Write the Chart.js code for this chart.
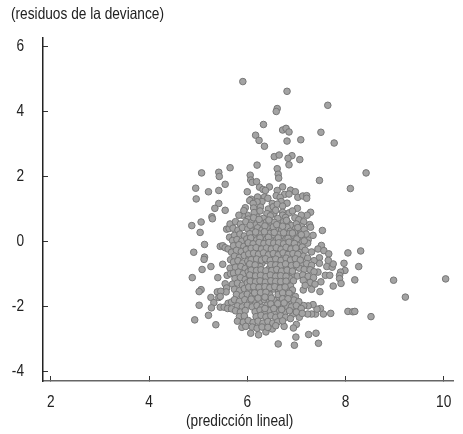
<!DOCTYPE html>
<html>
<head>
<meta charset="utf-8">
<script src="https://cdn.jsdelivr.net/npm/chart.js@4/dist/chart.umd.min.js"></script>
<style>
  html, body { margin: 0; padding: 0; background: #fff; }
  #wrap { position: relative; width: 463px; height: 434px; }
</style>
</head>
<body>
<div id="wrap"><canvas id="grafico"></canvas></div>
<script>
const xTicks = [2, 4, 6, 8, 10]
const yTicks = [-4, -2, 0, 2, 4, 6]
const xTitle = '(predicción lineal)'
const yTitle = '(residuos de la deviance)'

// [prediccion lineal, residuo]
const puntosArriba = [
  [5.91,4.93],[6.81,4.63],[6.61,4.10],[6.59,4.01],[7.64,4.20],[6.33,3.61],[6.72,3.44],[6.79,3.49],[6.85,3.38],
  [6.17,3.28],[6.24,3.12],[6.35,2.94],[6.81,3.10],[7.09,3.14],[7.50,3.37],[7.77,3.04],[6.55,2.62],[6.65,2.67],
  [6.91,2.65],[6.83,2.57],[7.07,2.53],[6.85,2.37],[6.20,2.36],[6.61,2.25],[6.63,2.08],[6.64,1.96],[6.06,2.05],
  [6.07,1.90],[6.10,1.83],[6.19,1.85],[8.42,2.12],[7.47,1.89],[8.10,1.64],[6.00,1.54],[6.72,1.69],[6.45,1.69],
  [6.25,1.68],[6.32,1.61],[6.37,1.58],[6.61,1.58],[6.88,1.59],[6.98,1.54],[6.59,1.42],[6.76,1.46],[6.85,1.47],
  [7.03,1.37],[7.13,1.41],[7.21,1.42],[7.21,1.34],[6.08,1.31],[6.05,1.27],[6.21,1.38],[6.35,1.38],[6.42,1.34],
  [6.67,1.37],[6.69,1.24],[6.81,1.19],[6.30,1.24],[6.20,1.23],[6.12,1.18],[5.96,1.05],[6.13,1.04],[6.27,1.07],
  [6.43,1.01],[6.51,1.18],[6.53,1.08],[6.61,1.16],[6.72,1.10],[7.02,1.03],[7.29,0.91],[7.22,0.82],[6.85,0.89],
  [6.72,0.91],[6.72,0.82],[6.54,0.87],[6.40,0.87],[6.20,0.77],[6.00,0.82],[5.90,0.82],[5.83,0.82],[7.10,0.82]
]
const puntosIzquierda = [
  [5.07,2.12],[5.42,2.14],[5.43,2.01],[5.65,2.28],[4.95,1.65],[5.21,1.54],[5.42,1.58],[5.55,1.77],[4.96,1.32],
  [5.42,1.18],[5.34,1.03],[5.55,0.97],[5.28,0.77],[4.87,0.50],[5.06,0.61],[5.04,0.29],[5.29,0.71],[5.13,-0.08],
  [4.91,-0.32],[5.13,-0.47],[5.12,-0.54],[5.26,-0.76],[5.08,-0.85],[5.50,-0.69],[4.88,-1.10],[5.40,-1.10],
  [5.06,-1.47],[5.02,-1.53],[5.39,-1.54],[5.02,-1.95],[5.26,-1.71],[5.32,-1.87],[5.42,-1.71],[5.27,-2.03],
  [5.45,-2.01],[4.93,-2.40],[5.21,-2.26],[5.36,-2.55],[5.45,-0.14],[5.50,-0.12],[5.55,-0.18],[5.61,-0.22],
  [5.58,0.39],[5.63,0.41],[5.65,0.55],[5.64,0.14],[5.66,-0.55],[5.65,-0.81],[5.59,-1.03],[5.66,-0.98],
  [5.55,-1.29],[5.58,-1.42],[5.57,-1.54],[5.46,-1.52],[5.45,-1.68],[5.53,-2.01],[5.61,-1.89],[5.68,-1.85],
  [5.60,-2.05],[5.68,-2.06]
]
const puntosDerecha = [
  [7.53,0.35],[7.27,0.53],[7.29,0.45],[7.24,0.06],[7.23,-0.04],[7.51,-0.11],[7.44,-0.22],[7.31,-0.31],[7.56,-0.27],
  [7.66,-0.37],[8.05,-0.34],[8.31,-0.28],[7.97,-0.66],[8.27,-0.76],[7.99,-0.88],[7.90,-0.93],[7.88,-1.03],
  [7.88,-1.13],[7.91,-1.28],[8.19,-1.17],[7.75,-1.36],[8.98,-1.18],[10.04,-1.14],[9.22,-1.70],[8.52,-2.30],
  [8.05,-2.14],[8.15,-2.15],[8.19,-2.14],[7.70,-2.20],[7.55,-2.22],[7.39,-2.22],[7.31,-2.22],[7.23,-2.22],
  [7.49,-2.05],[7.42,-2.07],[7.34,-1.93],[7.24,-1.97],[7.15,-1.96],[7.48,-1.53],[7.50,-1.23],[7.31,-1.46],
  [7.14,-1.48],[7.59,-1.03],[7.68,-1.03],[7.62,-0.76],[7.73,-0.78],[7.75,-0.68],[7.65,-0.57],[7.47,-0.49],
  [7.47,-0.66],[7.44,-0.93],[7.06,-2.32],[6.93,-2.22],[7.00,-2.54],[6.94,-2.65],[6.75,-2.60],[6.51,-2.68],
  [6.38,-2.77],[6.23,-2.86],[6.07,-2.81],[5.89,-2.63],[6.99,-2.93],[7.25,-2.85],[7.40,-2.81],[7.45,-3.12],
  [6.96,-3.18],[6.63,-3.14]
]
const nubeAlta = [
  [5.93,0.96],[6.02,0.70],[6.14,0.90],[6.26,0.95],[6.33,0.72],[6.47,0.80],[6.58,0.97],[6.62,0.72],[6.78,0.75],
  [6.92,0.95],[6.97,0.74],[7.05,0.68],[7.15,0.62],[5.76,0.62],[5.86,0.55],[5.97,0.62],[6.09,0.60],[6.17,0.52],
  [6.27,0.58],[6.39,0.61],[6.47,0.53],[6.55,0.60],[6.66,0.55],[6.74,0.62],[6.84,0.57],[6.90,0.50],[7.00,0.55],
  [7.11,0.46],[5.71,0.42],[5.81,0.36],[5.90,0.44],[6.01,0.40],[6.11,0.33],[6.21,0.43],[6.30,0.36],[6.41,0.44],
  [6.50,0.33],[6.61,0.41],[6.70,0.36],[6.81,0.45],[6.88,0.33],[6.98,0.40],[7.06,0.31],[7.16,0.38],[5.74,0.20],
  [5.85,0.24],[5.94,0.18],[6.05,0.25],[6.16,0.17],[6.25,0.24],[6.36,0.19],[6.45,0.26],[6.56,0.17],[6.65,0.23],
  [6.75,0.18],[6.86,0.25],[6.94,0.16],[7.03,0.21],[7.13,0.14],[7.20,0.24],[7.34,0.20],[5.70,0.04],[5.79,0.07],
  [5.89,0.02],[5.99,0.09],[6.08,0.02],[6.19,0.06],[6.29,0.00],[6.39,0.08],[6.49,0.03],[6.59,0.06],[6.69,0.01],
  [6.79,0.09],[6.90,0.02],[6.99,0.05],[7.08,-0.02],[7.16,0.03]
]
const nubeMedia = [
  [5.72,-0.12],[5.83,-0.09],[5.93,-0.14],[6.03,-0.08],[6.13,-0.15],[6.23,-0.09],[6.33,-0.16],[6.43,-0.08],
  [6.53,-0.13],[6.63,-0.09],[6.73,-0.15],[6.83,-0.08],[6.93,-0.14],[7.02,-0.10],[7.12,-0.16],[5.68,-0.32],
  [5.78,-0.26],[5.88,-0.30],[5.98,-0.24],[6.08,-0.32],[6.18,-0.26],[6.28,-0.30],[6.38,-0.25],[6.48,-0.33],
  [6.58,-0.27],[6.68,-0.31],[6.78,-0.24],[6.88,-0.32],[6.98,-0.27],[7.08,-0.33],[7.18,-0.26],[5.74,-0.44],
  [5.84,-0.48],[5.94,-0.42],[6.04,-0.49],[6.14,-0.43],[6.24,-0.47],[6.34,-0.41],[6.44,-0.50],[6.54,-0.44],
  [6.64,-0.48],[6.74,-0.41],[6.84,-0.49],[6.94,-0.43],[7.04,-0.47],[7.14,-0.44],[7.23,-0.50],[7.36,-0.58],
  [5.72,-0.62],[5.81,-0.58],[5.91,-0.65],[6.01,-0.59],[6.11,-0.64],[6.21,-0.60],[6.30,-0.66],[6.41,-0.58],
  [6.51,-0.65],[6.61,-0.60],[6.71,-0.66],[6.81,-0.59],[6.91,-0.65],[7.01,-0.60],[7.11,-0.66],[7.21,-0.67],
  [7.31,-0.72],[5.76,-0.78],[5.87,-0.76],[5.96,-0.82],[6.06,-0.75],[6.16,-0.81],[6.26,-0.76],[6.45,-0.82],
  [6.55,-0.76],[6.66,-0.82],[6.76,-0.77],[6.86,-0.83],[6.96,-0.76],[7.06,-0.81],[7.16,-0.85],[7.28,-0.86],
  [7.36,-0.92]
]
const nubeBaja = [
  [5.72,-0.96],[5.82,-0.93],[5.92,-0.98],[6.02,-0.92],[6.12,-0.99],[6.22,-0.93],[6.32,-0.98],[6.42,-0.94],
  [6.52,-1.00],[6.62,-0.93],[6.72,-0.99],[6.82,-0.94],[6.92,-1.00],[7.02,-1.05],[7.13,-1.02],[7.24,-1.06],
  [7.35,-1.10],[5.75,-1.13],[5.86,-1.10],[5.96,-1.16],[6.06,-1.09],[6.16,-1.15],[6.26,-1.10],[6.36,-1.16],
  [6.46,-1.10],[6.56,-1.16],[6.66,-1.11],[6.76,-1.17],[6.86,-1.12],[6.94,-1.20],[7.14,-1.18],[7.28,-1.25],
  [7.38,-1.30],[5.70,-1.30],[5.80,-1.27],[5.90,-1.33],[6.00,-1.26],[6.10,-1.32],[6.20,-1.27],[6.30,-1.33],
  [6.40,-1.27],[6.50,-1.33],[6.60,-1.28],[6.70,-1.34],[6.80,-1.29],[6.88,-1.36],[7.18,-1.34],[5.74,-1.46],
  [5.84,-1.50],[5.94,-1.44],[6.04,-1.50],[6.14,-1.45],[6.24,-1.51],[6.34,-1.45],[6.44,-1.50],[6.54,-1.45],
  [6.64,-1.51],[6.74,-1.46],[6.84,-1.52],[6.92,-1.48]
]
const nubeFondo = [
  [5.78,-1.62],[5.90,-1.66],[6.00,-1.61],[6.10,-1.67],[6.20,-1.62],[6.30,-1.68],[6.40,-1.62],[6.68,-1.64],
  [6.78,-1.69],[6.88,-1.63],[6.98,-1.68],[5.74,-1.78],[5.84,-1.83],[5.95,-1.78],[6.05,-1.84],[6.15,-1.79],
  [6.25,-1.84],[6.35,-1.78],[6.45,-1.84],[6.55,-1.80],[6.65,-1.85],[6.75,-1.79],[6.85,-1.84],[6.95,-1.79],
  [7.05,-1.84],[5.80,-1.97],[5.90,-2.00],[6.00,-1.95],[6.10,-2.00],[6.20,-1.96],[6.30,-2.01],[6.40,-1.95],
  [6.50,-2.00],[6.60,-1.96],[6.70,-2.01],[6.80,-1.95],[6.90,-2.00],[7.00,-1.96],[7.10,-2.05],[5.76,-2.12],
  [5.86,-2.16],[5.96,-2.11],[6.16,-2.15],[6.26,-2.10],[6.36,-2.16],[6.46,-2.11],[6.56,-2.16],[6.66,-2.11],
  [6.76,-2.17],[6.86,-2.12],[7.00,-2.16],[7.12,-2.20],[5.84,-2.30],[5.94,-2.28],[6.18,-2.30],[6.28,-2.26],
  [6.38,-2.31],[6.48,-2.27],[6.58,-2.32],[6.68,-2.27],[6.78,-2.32],[6.88,-2.36],[5.80,-2.44],[5.92,-2.47],
  [6.02,-2.42],[6.12,-2.48],[6.22,-2.44],[6.32,-2.50],[6.42,-2.45],[6.52,-2.50],[6.62,-2.46],[6.72,-2.43],
  [5.97,-2.60],[6.10,-2.62],[6.20,-2.66],[6.30,-2.62],[6.42,-2.63],[6.58,-2.58],[6.46,-1.63],[6.49,-1.73],[6.63,-1.62]
]
const nubeCentro = [
  [6.06,0.51],[6.13,0.74],[6.24,0.69],[6.36,0.49],[6.44,0.67],[6.53,0.46],[6.60,0.53],[6.72,0.48],[6.80,0.66],
  [6.96,0.29],[7.03,0.44],[6.07,0.12],[6.17,0.30],[6.26,0.12],[6.35,0.31],[6.43,0.14],[6.55,0.29],[6.63,0.12],
  [6.74,0.28],[6.83,0.11],[6.92,0.27],[7.01,0.09],[7.10,0.22],[6.02,-0.03],[6.12,-0.06],[6.24,-0.02],[6.34,-0.05],
  [6.44,-0.02],[6.54,-0.04],[6.64,-0.03],[6.74,-0.06],[6.85,-0.01],[6.96,-0.05],[6.08,-0.20],[6.18,-0.18],
  [6.29,-0.22],[6.39,-0.19],[6.49,-0.22],[6.59,-0.18],[6.69,-0.23],[6.79,-0.17],[6.89,-0.22],[6.99,-0.19],
  [6.03,-0.37],[6.13,-0.35],[6.23,-0.38],[6.33,-0.34],[6.43,-0.40],[6.53,-0.36],[6.63,-0.40],[6.73,-0.34],
  [6.83,-0.39],[6.93,-0.36],[7.03,-0.38],[6.08,-0.55],[6.19,-0.53],[6.29,-0.56],[6.37,-0.52],[6.47,-0.57],
  [6.58,-0.53],[6.69,-0.57],[6.79,-0.50],[6.88,-0.56],[6.98,-0.52],[7.08,-0.56],[6.05,-0.68],[6.16,-0.71],
  [6.48,-0.70],[6.58,-0.71],[6.68,-0.73],[6.78,-0.68],[6.90,-0.73],[7.00,-0.70],[6.08,-0.87],[6.19,-0.88],
  [6.28,-0.86],[6.38,-0.89],[6.50,-0.88],[6.60,-0.85],[6.70,-0.90],[6.81,-0.87],[6.92,-0.90],[6.05,-1.02],
  [6.17,-1.05],[6.27,-1.03],[6.38,-1.07],[6.47,-1.02],[6.58,-1.06],[6.68,-1.04],[6.79,-1.06],[6.06,-1.21],
  [6.17,-1.23],[6.26,-1.20],[6.37,-1.24],[6.48,-1.20],[6.58,-1.22],[6.68,-1.22],[6.79,-1.21],[6.03,-1.39],
  [6.13,-1.38],[6.24,-1.40],[6.36,-1.38],[6.46,-1.41],[6.56,-1.38],[6.67,-1.42],[6.77,-1.39],[6.15,-1.57],
  [6.27,-1.56],[6.38,-1.55],[6.72,-1.57],[6.85,-1.58],[6.08,-1.76],[6.22,-1.73],[6.36,-1.70],[6.72,-1.75],
  [6.83,-1.75],[6.48,-1.91],[6.62,-1.90],[6.75,-1.88],[6.36,-2.05],[6.54,-2.05],[6.70,-2.08]
]

const puntos = [...puntosArriba, ...puntosIzquierda, ...puntosDerecha, ...nubeAlta, ...nubeMedia, ...nubeBaja, ...nubeFondo, ...nubeCentro]

const fuente = '"Liberation Sans", sans-serif'
const estrechar = 0.83

// no narrow face installed: squeeze every label sideways
const rotulos = {
  id: 'rotulos',
  beforeDraw (chart) {
    const ctx = chart.ctx
    if (ctx.textoOriginal) return
    ctx.textoOriginal = ctx.fillText
    ctx.fillText = function (texto, x, y) {
      this.save()
      this.translate(x, y)
      this.scale(estrechar, 1)
      this.textoOriginal(texto, 0, 0)
      this.restore()
    }
  },
  afterDraw (chart) {
    const ctx = chart.ctx
    ctx.save()
    ctx.fillStyle = '#222'
    ctx.font = '16.5px ' + fuente
    ctx.textBaseline = 'middle'
    ctx.textAlign = 'left'
    ctx.fillText(yTitle, 11, 14)
    ctx.fillText(xTitle, 186, 421)
    ctx.restore()
  }
}

new Chart(document.getElementById('grafico').getContext('2d'), {
  type: 'scatter',
  data: {
    datasets: [{
      label: 'residuos',
      data: puntos.map((p) => ({ x: p[0], y: p[1] })),
      pointRadius: 3.3,
      pointBorderWidth: 1,
      pointBackgroundColor: '#a3a3a3',
      pointBorderColor: '#777777'
    }]
  },
  options: {
    responsive: true,
    maintainAspectRatio: false,
    animation: false,
    layout: { padding: { top: 38, right: 10 } },
    scales: {
      x: {
        min: 1.84,
        max: 10.19,
        afterBuildTicks: (scale) => { scale.ticks = xTicks.map((value) => ({ value })) },
        afterFit: (scale) => {
          scale.height = 53
          scale.paddingLeft = 0
          scale.paddingRight = 0
        },
        border: { color: '#666', width: 1.5 },
        grid: { drawOnChartArea: false, tickLength: -5, tickColor: '#333' },
        ticks: {
          autoSkip: false,
          maxRotation: 0,
          padding: 17,
          color: '#222',
          font: { family: fuente, size: 16.5 }
        }
      },
      y: {
        min: -4.28,
        max: 6.27,
        afterBuildTicks: (scale) => { scale.ticks = yTicks.map((value) => ({ value })) },
        afterFit: (scale) => { scale.width = 43 },
        border: { color: '#222', width: 1.5 },
        grid: { drawOnChartArea: false, tickLength: -5, tickColor: '#333' },
        ticks: {
          autoSkip: false,
          padding: 24,
          color: '#222',
          font: { family: fuente, size: 16.5 }
        }
      }
    },
    plugins: {
      legend: { display: false },
      tooltip: { enabled: false }
    }
  },
  plugins: [rotulos]
})
</script>
</body>
</html>
